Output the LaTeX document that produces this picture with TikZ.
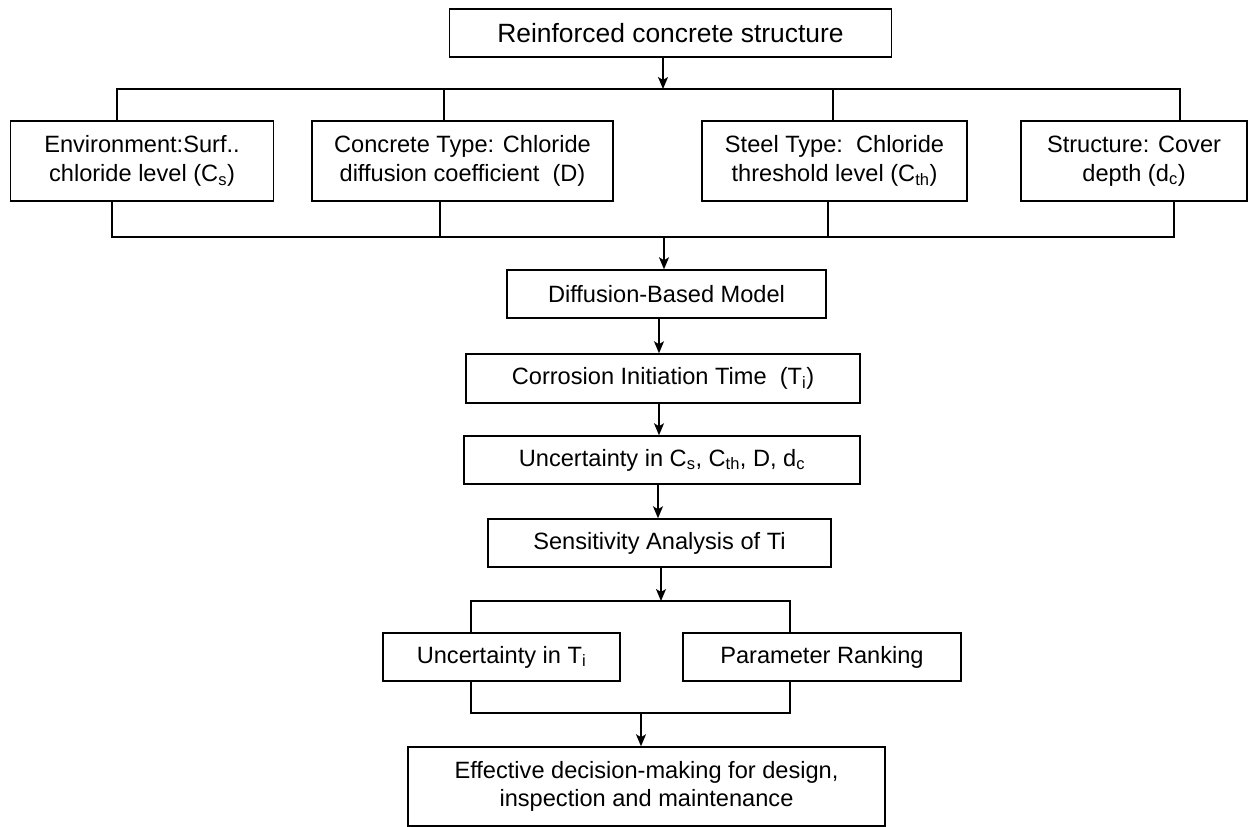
\documentclass[tikz,border=0pt]{standalone}
\usepackage{fontspec}
\setmainfont{Liberation Sans}
\usetikzlibrary{arrows.meta}
\begin{document}
\begin{tikzpicture}[x=1pt,y=-1pt,
  box/.style={draw=black,line width=1.5pt,fill=white,inner sep=0pt,align=center,
    font=\fontsize{23.6}{28.5}\selectfont},
  ln/.style={line width=1.4pt,draw=black},
  arr/.style={ln,-{Stealth[length=12pt,width=10pt,inset=3pt]}}]
\useasboundingbox (0,0) rectangle (1248,827);
\fill[white] (0,0) rectangle (1248,827);
% nodes
\node[box,minimum width=442pt,minimum height=48pt,font=\fontsize{26.4}{30}\selectfont] (top) at (670.5,33) {Reinforced concrete structure};
\node[box,minimum width=263pt,minimum height=80pt] (env) at (142,161) {Environment:Surf..\\chloride level (C\textsubscript{s})};
\node[box,minimum width=301pt,minimum height=80pt] (conc) at (462.5,161) {Concrete Type: Chloride\\diffusion coefficient\ \ (D)};
\node[box,minimum width=265pt,minimum height=80pt] (steel) at (834.5,161) {Steel Type:\ \ Chloride\\threshold level (C\textsubscript{th})};
\node[box,minimum width=226pt,minimum height=80pt] (struct) at (1134,161) {Structure: Cover\\depth (d\textsubscript{c})};
\node[box,minimum width=319pt,minimum height=48pt] (diff) at (666.5,294) {Diffusion-Based Model};
\node[box,minimum width=394pt,minimum height=49pt] (corr) at (663,378.5) {Corrosion Initiation Time\ \ (T\textsubscript{i})};
\node[box,minimum width=396pt,minimum height=48pt] (unc) at (662,460) {Uncertainty in C\textsubscript{s}, C\textsubscript{th}, D, d\textsubscript{c}};
\node[box,minimum width=343pt,minimum height=48pt] (sens) at (659.5,543) {Sensitivity Analysis of Ti};
\node[box,minimum width=237pt,minimum height=48pt] (unct) at (501.5,657) {Uncertainty in T\textsubscript{i}};
\node[box,minimum width=278pt,minimum height=48pt] (param) at (822,657) {Parameter Ranking};
\node[box,minimum width=477pt,minimum height=79pt] (final) at (646.5,786.5) {Effective decision-making for design,\\inspection and maintenance};
% coordinates
\coordinate (ubA) at (663,89);
\coordinate (ubL) at (117,89);
\coordinate (ubC) at (444,89);
\coordinate (ubS) at (833,89);
\coordinate (ubR) at (1180,89);
\coordinate (lbE) at (112,237);
\coordinate (lbC) at (440,237);
\coordinate (lbS) at (828,237);
\coordinate (lbT) at (1174,237);
\coordinate (lbA) at (664,237);
\coordinate (a1) at (659,0);
\coordinate (a2) at (659,0);
\coordinate (a3) at (658,0);
\coordinate (sbA) at (661,601);
\coordinate (sbL) at (471,601);
\coordinate (sbR) at (790,601);
\coordinate (fbL) at (471,713);
\coordinate (fbR) at (790,713);
\coordinate (fbA) at (641,713);
% connectors
\draw[arr] (ubA |- top.south) -- (ubA);
\draw[ln] (ubL |- env.north) -- (ubL) -- (ubR) -- (ubR |- struct.north);
\draw[ln] (ubC) -- (ubC |- conc.north);
\draw[ln] (ubS) -- (ubS |- steel.north);
\draw[ln] (lbE |- env.south) -- (lbE) -- (lbT) -- (lbT |- struct.south);
\draw[ln] (lbC |- conc.south) -- (lbC);
\draw[ln] (lbS |- steel.south) -- (lbS);
\draw[arr] (lbA) -- (lbA |- diff.north);
\draw[arr] (a1 |- diff.south) -- (a1 |- corr.north);
\draw[arr] (a2 |- corr.south) -- (a2 |- unc.north);
\draw[arr] (a3 |- unc.south) -- (a3 |- sens.north);
\draw[arr] (sbA |- sens.south) -- (sbA);
\draw[ln] (sbL |- unct.north) -- (sbL) -- (sbR) -- (sbR |- param.north);
\draw[ln] (fbL |- unct.south) -- (fbL) -- (fbR) -- (fbR |- param.south);
\draw[arr] (fbA) -- (fbA |- final.north);
\end{tikzpicture}
\end{document}
